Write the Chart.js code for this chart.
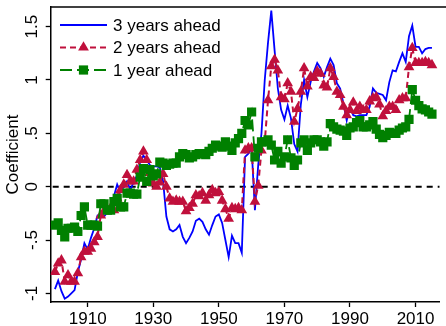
<!DOCTYPE html>
<html>
<head>
<meta charset="utf-8">
<script src="https://cdn.jsdelivr.net/npm/chart.js@4.4.1/dist/chart.umd.min.js"></script>
<style>
  html, body { margin: 0; padding: 0; background: #ffffff; }
  #wrap { width: 446px; height: 326px; }
</style>
</head>
<body>
<div id="wrap"><canvas id="c" width="446" height="326"></canvas></div>
<script>
// Years of the estimates
const years = [
  1900,1901,1902,1903,1904,1905,1906,1907,1908,1909,
  1910,1911,1912,1913,1914,1915,1916,1917,1918,1919,
  1920,1921,1922,1923,1924,1925,1926,1927,1928,1929,
  1930,1931,1932,1933,1934,1935,1936,1937,1938,1939,
  1940,1941,1942,1943,1944,1945,1946,1947,1948,1949,
  1950,1951,1952,1953,1954,1955,1956,1957,1958,1959,
  1960,1961,1962,1963,1964,1965,1966,1967,1968,1969,
  1970,1971,1972,1973,1974,1975,1976,1977,1978,1979,
  1980,1981,1982,1983,1984,1985,1986,1987,1988,1989,
  1990,1991,1992,1993,1994,1995,1996,1997,1998,1999,
  2000,2001,2002,2003,2004,2005,2006,2007,2008,2009,
  2010,2011,2012,2013,2014,2015
];

// Coefficient, 3 years ahead
const ahead3 = [
  -0.96,-0.88,-0.98,-1.05,-1.03,-1.00,-0.97,-0.80,-0.68,-0.53,
  -0.59,-0.48,-0.39,-0.27,-0.26,-0.28,-0.24,-0.20,-0.09,0.02,
  -0.05,0.00,0.05,-0.03,0.04,0.10,0.23,0.29,0.25,0.20,
  0.19,0.19,0.18,0.05,-0.28,-0.40,-0.42,-0.40,-0.36,-0.47,
  -0.53,-0.48,-0.42,-0.32,-0.30,-0.33,-0.40,-0.45,-0.36,-0.28,
  -0.26,-0.34,-0.50,-0.66,-0.46,-0.53,-0.53,-0.62,0.28,0.31,
  0.36,-0.22,0.20,0.50,1.00,1.35,1.65,1.28,0.92,0.72,
  0.63,0.76,0.64,0.40,0.33,0.77,1.00,0.84,0.98,1.08,
  1.16,1.11,1.03,1.12,1.20,1.14,0.97,0.92,0.78,0.62,
  0.75,0.67,0.66,0.67,0.67,0.67,0.75,0.92,0.88,0.87,
  0.86,0.81,0.98,1.09,1.08,1.17,1.25,1.17,1.41,1.51,
  1.31,1.31,1.25,1.29,1.30,1.30
];

// Coefficient, 2 years ahead
const ahead2 = [
  -0.80,-0.72,-0.69,-0.89,-0.83,-0.89,-0.89,-0.81,-0.66,-0.61,
  -0.61,-0.58,-0.52,-0.47,-0.27,-0.23,-0.22,-0.20,-0.22,-0.11,
  -0.03,0.02,0.11,0.05,0.05,0.16,0.25,0.33,0.25,0.13,
  0.03,0.00,0.04,0.12,0.00,-0.11,-0.14,-0.13,-0.14,-0.14,
  -0.23,-0.20,-0.16,-0.08,-0.09,-0.06,-0.13,-0.08,-0.03,-0.06,
  -0.05,-0.13,-0.21,-0.30,-0.20,-0.21,-0.20,-0.22,0.34,0.36,
  0.36,-0.14,0.01,0.34,0.42,0.81,1.13,1.19,1.09,0.84,
  0.82,0.97,0.89,0.61,0.73,0.89,1.11,0.94,1.03,1.02,
  1.08,1.06,0.95,0.93,1.11,1.03,0.89,0.86,0.75,0.67,
  0.72,0.79,0.71,0.75,0.72,0.72,0.80,0.83,0.84,0.77,
  0.66,0.71,0.75,0.75,0.72,0.81,0.83,0.83,1.12,1.30,
  1.16,1.16,1.16,1.17,1.16,1.14
];

// Coefficient, 1 year ahead
const ahead1 = [
  -0.36,-0.34,-0.41,-0.47,-0.39,-0.39,-0.38,-0.42,-0.27,-0.19,
  -0.36,-0.36,-0.36,-0.37,-0.16,-0.16,-0.22,-0.22,-0.14,-0.11,
  -0.19,-0.19,-0.06,-0.06,-0.07,-0.07,0.09,0.17,0.05,0.16,
  0.10,0.12,0.23,0.22,0.20,0.21,0.22,0.22,0.28,0.31,
  0.30,0.27,0.28,0.30,0.31,0.31,0.30,0.33,0.36,0.39,
  0.38,0.37,0.42,0.38,0.34,0.41,0.45,0.50,0.62,0.58,
  0.70,0.28,0.36,0.42,0.42,0.44,0.39,0.25,0.33,0.22,
  0.28,0.44,0.27,0.20,0.25,0.41,0.44,0.34,0.41,0.44,
  0.44,0.42,0.38,0.42,0.59,0.56,0.54,0.53,0.52,0.48,
  0.55,0.56,0.60,0.62,0.56,0.56,0.58,0.61,0.54,0.49,
  0.46,0.48,0.51,0.50,0.50,0.53,0.55,0.56,0.63,0.91,
  0.81,0.76,0.73,0.72,0.70,0.68
];

const seriesNames = ['3 years ahead', '2 years ahead', '1 year ahead'];
const xTickValues = [1910, 1930, 1950, 1970, 1990, 2010];
const yTickValues = [-1, -0.5, 0, 0.5, 1, 1.5];
const yTickLabels = ['-1', '-.5', '0', '.5', '1', '1.5'];

const FONT = '"Liberation Sans", Arial, Helvetica, sans-serif';
const BLUE = '#0000ff';
const RED = '#c0103c';
const GREEN = '#008000';

function toPoints(vals) {
  return vals.map((v, i) => ({ x: years[i], y: v }));
}

// Zero reference line and top frame, drawn under the series
const framePlugin = {
  id: 'frame',
  beforeDatasetsDraw(chart) {
    const { ctx, chartArea } = chart;
    const yScale = chart.scales.y;
    const y0 = yScale.getPixelForValue(0);
    ctx.save();
    ctx.strokeStyle = '#000';
    ctx.lineWidth = 2;
    ctx.setLineDash([6, 5]);
    ctx.beginPath();
    ctx.moveTo(chartArea.left + 2, y0);
    ctx.lineTo(chartArea.right, y0);
    ctx.stroke();
    ctx.setLineDash([]);
    ctx.lineWidth = 1.5;
    ctx.beginPath();
    ctx.moveTo(chartArea.left, chartArea.top);
    ctx.lineTo(chart.width, chartArea.top);
    ctx.stroke();
    ctx.restore();
  }
};

// Legend in the upper-left corner: line sample with marker, then label
const keyPlugin = {
  id: 'key',
  afterDatasetsDraw(chart) {
    const { ctx } = chart;
    const rows = [25, 47.5, 70];
    const x0 = 60, x1 = 107, xm = (x0 + x1) / 2;
    ctx.save();
    // 3 years ahead
    ctx.strokeStyle = BLUE;
    ctx.lineWidth = 1.8;
    ctx.beginPath(); ctx.moveTo(x0, rows[0]); ctx.lineTo(x1, rows[0]); ctx.stroke();
    // 2 years ahead
    ctx.strokeStyle = RED;
    ctx.lineWidth = 2;
    ctx.setLineDash([6, 4]);
    ctx.beginPath(); ctx.moveTo(x0, rows[1]); ctx.lineTo(x1, rows[1]); ctx.stroke();
    ctx.setLineDash([]);
    ctx.fillStyle = RED;
    ctx.beginPath();
    ctx.moveTo(xm, rows[1] - 6.2);
    ctx.lineTo(xm + 5.4, rows[1] + 3.1);
    ctx.lineTo(xm - 5.4, rows[1] + 3.1);
    ctx.closePath(); ctx.fill();
    // 1 year ahead
    ctx.strokeStyle = GREEN;
    ctx.lineWidth = 1.8;
    ctx.setLineDash([12, 5]);
    ctx.beginPath(); ctx.moveTo(x0, rows[2]); ctx.lineTo(x1, rows[2]); ctx.stroke();
    ctx.setLineDash([]);
    ctx.fillStyle = GREEN;
    ctx.fillRect(xm - 4.6, rows[2] - 4.6, 9.2, 9.2);
    // labels
    ctx.fillStyle = '#000';
    ctx.font = '17px ' + FONT;
    ctx.textAlign = 'left';
    ctx.textBaseline = 'middle';
    seriesNames.forEach((name, i) => ctx.fillText(name, 113, rows[i] + 1));
    ctx.restore();
  }
};

new Chart(document.getElementById('c'), {
  type: 'line',
  data: {
    datasets: [
      {
        label: seriesNames[0],
        data: toPoints(ahead3),
        borderColor: BLUE,
        borderWidth: 1.8,
        pointRadius: 0,
        tension: 0,
        order: 3
      },
      {
        label: seriesNames[1],
        data: toPoints(ahead2),
        borderColor: RED,
        borderWidth: 2,
        borderDash: [6, 4],
        pointStyle: 'triangle',
        pointRadius: 6.2,
        pointBackgroundColor: RED,
        pointBorderColor: RED,
        pointBorderWidth: 0,
        tension: 0,
        order: 2
      },
      {
        label: seriesNames[2],
        data: toPoints(ahead1),
        borderColor: GREEN,
        borderWidth: 1.8,
        borderDash: [12, 5],
        pointStyle: 'rect',
        pointRadius: 6.5,
        pointBackgroundColor: GREEN,
        pointBorderColor: GREEN,
        pointBorderWidth: 0,
        tension: 0,
        order: 1
      }
    ]
  },
  options: {
    responsive: false,
    animation: false,
    devicePixelRatio: 1,
    layout: { padding: { top: 7, right: 0, bottom: 0, left: 0 } },
    plugins: { legend: { display: false }, tooltip: { enabled: false } },
    scales: {
      x: {
        type: 'linear',
        min: 1898.72,
        max: 2017.3,
        afterFit(s) { s.height = 24; s.paddingLeft = 0; s.paddingRight = 0; },
        afterBuildTicks(s) { s.ticks = xTickValues.map(v => ({ value: v })); },
        border: { display: true, color: '#000', width: 1.5 },
        grid: { drawOnChartArea: false, drawTicks: true, tickLength: 5, tickColor: '#000', tickWidth: 1.3 },
        ticks: {
          minRotation: 0, maxRotation: 0, padding: 2, color: '#000',
          font: { family: FONT, size: 17 },
          callback: (v) => String(v)
        }
      },
      y: {
        type: 'linear',
        min: -1.081,
        max: 1.684,
        afterFit(s) { s.width = 50.7; s.paddingTop = 0; s.paddingBottom = 0; },
        afterBuildTicks(s) { s.ticks = yTickValues.map(v => ({ value: v })); },
        border: { display: true, color: '#000', width: 1.5 },
        grid: { drawOnChartArea: false, drawTicks: true, tickLength: 5, tickColor: '#000', tickWidth: 1.3 },
        ticks: {
          minRotation: 90, maxRotation: 90, crossAlign: 'center', padding: 2, color: '#000',
          font: { family: FONT, size: 17 },
          callback: (v) => yTickLabels[yTickValues.indexOf(v)]
        },
        title: {
          display: true, text: 'Coefficient', color: '#000',
          font: { family: FONT, size: 17 },
          padding: { top: 3, bottom: 0 }
        }
      }
    }
  },
  plugins: [framePlugin, keyPlugin]
});
</script>
</body>
</html>
